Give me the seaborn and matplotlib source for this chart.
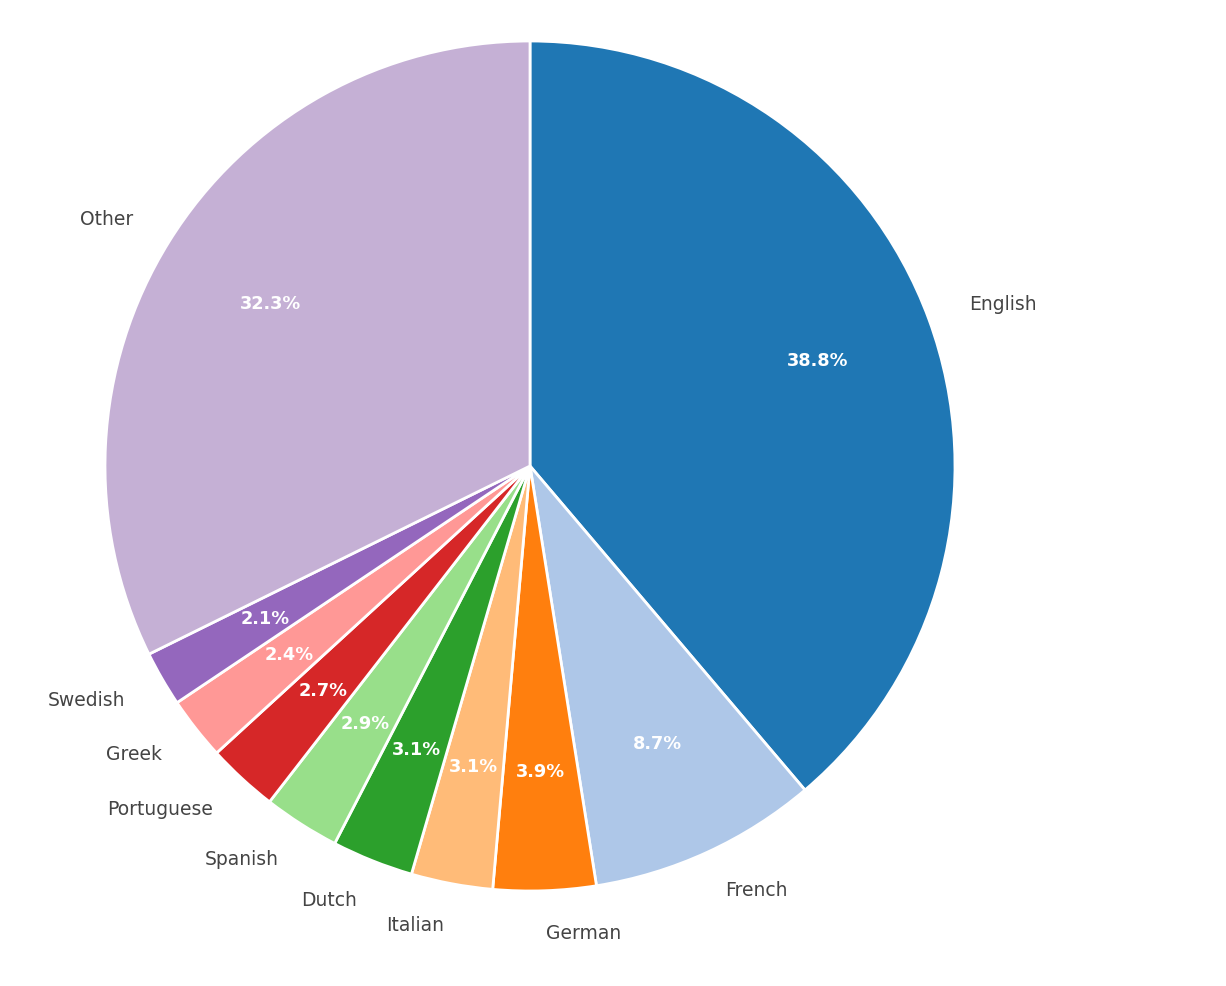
import matplotlib
matplotlib.use("Agg")
import matplotlib.pyplot as plt
import seaborn as sns

languages = ["English", "French", "German", "Italian", "Dutch", "Spanish",
             "Portuguese", "Greek", "Swedish", "Other"]
shares = [38.8, 8.7, 3.9, 3.1, 3.1, 2.9, 2.7, 2.4, 2.1, 32.3]

sns.set_theme(style="white")
plt.rcParams['font.family'] = ['DejaVu Sans']

colors = sns.color_palette("tab20", len(languages))

fig = plt.figure(figsize=(12.26, 9.86), dpi=100)
# axes placed so the pie centre sits at (530, 466) px with radius 425 px
r = 425
W, H = 1226, 986
cx, cy = 530, H - 466
side = 2.5 * r
ax = fig.add_axes([(cx - side / 2) / W, (cy - side / 2) / H, side / W, side / H])

wedges, texts, autotexts = ax.pie(
    shares, labels=languages, colors=colors, startangle=90, counterclock=False,
    autopct='%1.1f%%', pctdistance=0.72, labeldistance=1.1,
    wedgeprops=dict(edgecolor='white', linewidth=2),
    textprops=dict(fontsize=13.5, color='#444444'))
for t in autotexts:
    t.set_color('white')
    t.set_fontweight('bold')
    t.set_fontsize(12.8)
ax.set_xlim(-1.25, 1.25)
ax.set_ylim(-1.25, 1.25)
ax.set_aspect('equal')
ax.axis('off')

fig.savefig("out.png", dpi=100)
